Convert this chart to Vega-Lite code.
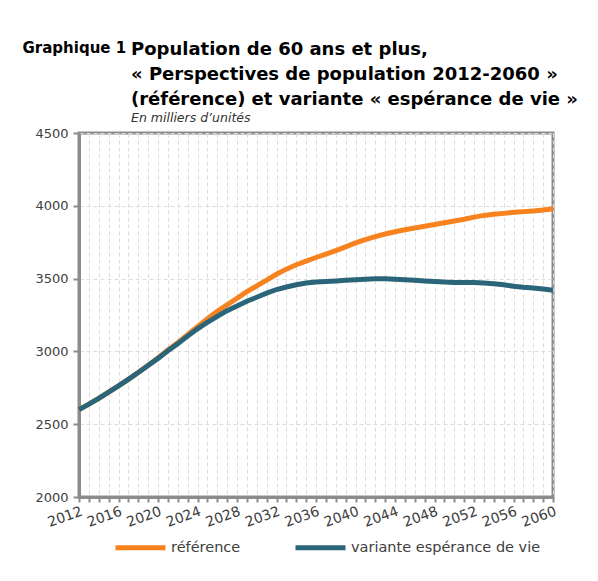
{
  "$schema": "https://vega.github.io/schema/vega-lite/v6.json",
  "width": 474,
  "height": 364,
  "autosize": {"type": "none"},
  "padding": {"left": 79, "top": 133, "right": 45, "bottom": 84},
  "background": "white",
  "title": {
    "text": ["Population de 60 ans et plus,", "« Perspectives de population 2012-2060 »", "(référence) et variante « espérance de vie »"],
    "subtitle": "En milliers d’unités",
    "anchor": "start",
    "frame": "group",
    "dx": 52,
    "offset": -84,
    "font": "DejaVu Sans",
    "fontSize": 18,
    "fontWeight": "bold",
    "color": "#000000",
    "lineHeight": 25,
    "subtitleFont": "DejaVu Sans",
    "subtitleFontSize": 12.5,
    "subtitleFontStyle": "italic",
    "subtitleColor": "#333333",
    "subtitlePadding": 3
  },
  "data": {
    "values": [
      {"year": 2012, "serie": "référence", "value": 2600},
      {"year": 2013, "serie": "référence", "value": 2638},
      {"year": 2014, "serie": "référence", "value": 2678},
      {"year": 2015, "serie": "référence", "value": 2720},
      {"year": 2016, "serie": "référence", "value": 2763},
      {"year": 2017, "serie": "référence", "value": 2808},
      {"year": 2018, "serie": "référence", "value": 2855},
      {"year": 2019, "serie": "référence", "value": 2905},
      {"year": 2020, "serie": "référence", "value": 2955},
      {"year": 2021, "serie": "référence", "value": 3010},
      {"year": 2022, "serie": "référence", "value": 3060},
      {"year": 2023, "serie": "référence", "value": 3115},
      {"year": 2024, "serie": "référence", "value": 3170},
      {"year": 2025, "serie": "référence", "value": 3225},
      {"year": 2026, "serie": "référence", "value": 3275},
      {"year": 2027, "serie": "référence", "value": 3320},
      {"year": 2028, "serie": "référence", "value": 3365},
      {"year": 2029, "serie": "référence", "value": 3410},
      {"year": 2030, "serie": "référence", "value": 3450},
      {"year": 2031, "serie": "référence", "value": 3490},
      {"year": 2032, "serie": "référence", "value": 3530},
      {"year": 2033, "serie": "référence", "value": 3565},
      {"year": 2034, "serie": "référence", "value": 3595},
      {"year": 2035, "serie": "référence", "value": 3620},
      {"year": 2036, "serie": "référence", "value": 3645},
      {"year": 2037, "serie": "référence", "value": 3668},
      {"year": 2038, "serie": "référence", "value": 3692},
      {"year": 2039, "serie": "référence", "value": 3718},
      {"year": 2040, "serie": "référence", "value": 3745},
      {"year": 2041, "serie": "référence", "value": 3768},
      {"year": 2042, "serie": "référence", "value": 3788},
      {"year": 2043, "serie": "référence", "value": 3806},
      {"year": 2044, "serie": "référence", "value": 3822},
      {"year": 2045, "serie": "référence", "value": 3836},
      {"year": 2046, "serie": "référence", "value": 3848},
      {"year": 2047, "serie": "référence", "value": 3860},
      {"year": 2048, "serie": "référence", "value": 3872},
      {"year": 2049, "serie": "référence", "value": 3884},
      {"year": 2050, "serie": "référence", "value": 3896},
      {"year": 2051, "serie": "référence", "value": 3908},
      {"year": 2052, "serie": "référence", "value": 3922},
      {"year": 2053, "serie": "référence", "value": 3934},
      {"year": 2054, "serie": "référence", "value": 3942},
      {"year": 2055, "serie": "référence", "value": 3948},
      {"year": 2056, "serie": "référence", "value": 3955},
      {"year": 2057, "serie": "référence", "value": 3960},
      {"year": 2058, "serie": "référence", "value": 3965},
      {"year": 2059, "serie": "référence", "value": 3971},
      {"year": 2060, "serie": "référence", "value": 3980},
      {"year": 2012, "serie": "variante espérance de vie", "value": 2600},
      {"year": 2013, "serie": "variante espérance de vie", "value": 2638},
      {"year": 2014, "serie": "variante espérance de vie", "value": 2678},
      {"year": 2015, "serie": "variante espérance de vie", "value": 2720},
      {"year": 2016, "serie": "variante espérance de vie", "value": 2763},
      {"year": 2017, "serie": "variante espérance de vie", "value": 2808},
      {"year": 2018, "serie": "variante espérance de vie", "value": 2855},
      {"year": 2019, "serie": "variante espérance de vie", "value": 2903},
      {"year": 2020, "serie": "variante espérance de vie", "value": 2952},
      {"year": 2021, "serie": "variante espérance de vie", "value": 3004},
      {"year": 2022, "serie": "variante espérance de vie", "value": 3053},
      {"year": 2023, "serie": "variante espérance de vie", "value": 3105},
      {"year": 2024, "serie": "variante espérance de vie", "value": 3155},
      {"year": 2025, "serie": "variante espérance de vie", "value": 3200},
      {"year": 2026, "serie": "variante espérance de vie", "value": 3240},
      {"year": 2027, "serie": "variante espérance de vie", "value": 3280},
      {"year": 2028, "serie": "variante espérance de vie", "value": 3312},
      {"year": 2029, "serie": "variante espérance de vie", "value": 3345},
      {"year": 2030, "serie": "variante espérance de vie", "value": 3372},
      {"year": 2031, "serie": "variante espérance de vie", "value": 3400},
      {"year": 2032, "serie": "variante espérance de vie", "value": 3425},
      {"year": 2033, "serie": "variante espérance de vie", "value": 3442},
      {"year": 2034, "serie": "variante espérance de vie", "value": 3458},
      {"year": 2035, "serie": "variante espérance de vie", "value": 3470},
      {"year": 2036, "serie": "variante espérance de vie", "value": 3476},
      {"year": 2037, "serie": "variante espérance de vie", "value": 3480},
      {"year": 2038, "serie": "variante espérance de vie", "value": 3484},
      {"year": 2039, "serie": "variante espérance de vie", "value": 3488},
      {"year": 2040, "serie": "variante espérance de vie", "value": 3492},
      {"year": 2041, "serie": "variante espérance de vie", "value": 3496},
      {"year": 2042, "serie": "variante espérance de vie", "value": 3499},
      {"year": 2043, "serie": "variante espérance de vie", "value": 3499},
      {"year": 2044, "serie": "variante espérance de vie", "value": 3496},
      {"year": 2045, "serie": "variante espérance de vie", "value": 3492},
      {"year": 2046, "serie": "variante espérance de vie", "value": 3488},
      {"year": 2047, "serie": "variante espérance de vie", "value": 3484},
      {"year": 2048, "serie": "variante espérance de vie", "value": 3480},
      {"year": 2049, "serie": "variante espérance de vie", "value": 3476},
      {"year": 2050, "serie": "variante espérance de vie", "value": 3474},
      {"year": 2051, "serie": "variante espérance de vie", "value": 3473},
      {"year": 2052, "serie": "variante espérance de vie", "value": 3473},
      {"year": 2053, "serie": "variante espérance de vie", "value": 3470},
      {"year": 2054, "serie": "variante espérance de vie", "value": 3465},
      {"year": 2055, "serie": "variante espérance de vie", "value": 3458},
      {"year": 2056, "serie": "variante espérance de vie", "value": 3448},
      {"year": 2057, "serie": "variante espérance de vie", "value": 3440},
      {"year": 2058, "serie": "variante espérance de vie", "value": 3435},
      {"year": 2059, "serie": "variante espérance de vie", "value": 3428},
      {"year": 2060, "serie": "variante espérance de vie", "value": 3420}
    ]
  },
  "mark": {"type": "line", "strokeWidth": 5},
  "encoding": {
    "x": {
      "field": "year",
      "type": "quantitative",
      "scale": {"domain": [2012, 2060], "nice": false, "zero": false},
      "axis": {
        "title": null,
        "values": [2012,2013,2014,2015,2016,2017,2018,2019,2020,2021,2022,2023,2024,2025,2026,2027,2028,2029,2030,2031,2032,2033,2034,2035,2036,2037,2038,2039,2040,2041,2042,2043,2044,2045,2046,2047,2048,2049,2050,2051,2052,2053,2054,2055,2056,2057,2058,2059,2060],
        "labelExpr": "(datum.value - 2012) % 4 == 0 ? datum.value : ''",
        "format": "d",
        "labelAngle": -20,
        "labelAlign": "right",
        "labelBaseline": "top",
        "labelPadding": 2,
        "labelFont": "DejaVu Sans",
        "labelFontSize": 14,
        "labelColor": "#404040",
        "labelOverlap": false,
        "labelFlush": false,
        "domainColor": "#8c8c8c",
        "domainWidth": 3,
        "tickColor": "#8c8c8c",
        "tickWidth": 2,
        "tickSize": 5,
        "grid": true,
        "gridColor": "#dcdcdc",
        "gridDash": [4, 3],
        "gridWidth": 1
      }
    },
    "y": {
      "field": "value",
      "type": "quantitative",
      "scale": {"domain": [2000, 4500], "nice": false, "zero": false},
      "axis": {
        "title": "Graphique 1",
        "titleAngle": 0,
        "titleX": -57,
        "titleY": -81,
        "titleAlign": "left",
        "titleBaseline": "alphabetic",
        "titleFont": "DejaVu Sans",
        "titleFontSize": 15,
        "titleFontWeight": "bold",
        "titleColor": "#000000",
        "values": [2000, 2500, 3000, 3500, 4000, 4500],
        "format": "d",
        "labelFont": "DejaVu Sans",
        "labelFontSize": 13,
        "labelColor": "#404040",
        "labelPadding": 5,
        "domainColor": "#8c8c8c",
        "domainWidth": 3,
        "tickColor": "#8c8c8c",
        "tickWidth": 2,
        "tickSize": 6,
        "grid": true,
        "gridColor": "#dcdcdc",
        "gridDash": [4, 3],
        "gridWidth": 1
      }
    },
    "color": {
      "field": "serie",
      "type": "nominal",
      "scale": {"domain": ["référence", "variante espérance de vie"], "range": ["#F7821E", "#2B657A"]},
      "legend": {
        "title": null,
        "orient": "none",
        "legendX": 34,
        "legendY": 387,
        "direction": "horizontal",
        "symbolType": "stroke",
        "symbolSize": 2500,
        "symbolStrokeWidth": 5,
        "labelFont": "DejaVu Sans",
        "labelFontSize": 14.5,
        "labelColor": "#404040",
        "labelOffset": 3,
        "labelLimit": 400,
        "columnPadding": 44
      }
    },
    "order": {"field": "serie"}
  },
  "config": {
    "view": {"stroke": "#8c8c8c", "strokeWidth": 3}
  }
}
